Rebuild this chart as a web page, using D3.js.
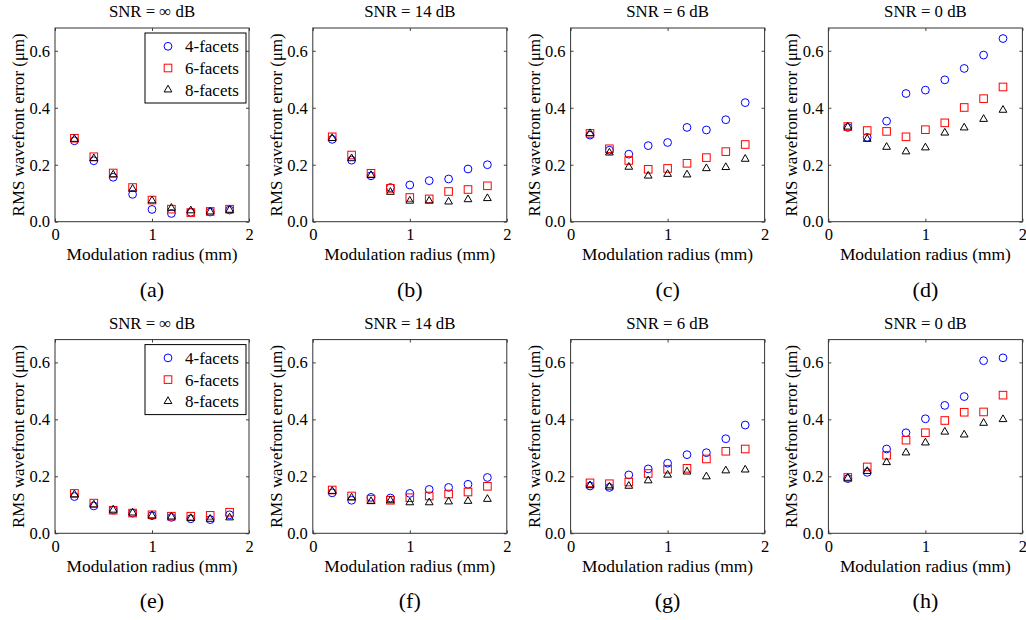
<!DOCTYPE html>
<html><head><meta charset="utf-8">
<script src="https://cdn.jsdelivr.net/npm/d3@7"></script>
<style>
body{margin:0;background:#fff}
text{font-family:"Liberation Serif","Times New Roman",serif;fill:#000}
</style></head>
<body><svg id="c" width="1026" height="620"></svg>
<script>
// Modulation radius (mm)
const radius = [0.2, 0.4, 0.6, 0.8, 1.0, 1.2, 1.4, 1.6, 1.8];
const seriesNames = ["4-facets", "6-facets", "8-facets"];
const titles = ["SNR = \u221E dB", "SNR = 14 dB", "SNR = 6 dB", "SNR = 0 dB",
                "SNR = \u221E dB", "SNR = 14 dB", "SNR = 6 dB", "SNR = 0 dB"];
const panelLabels = ["(a)", "(b)", "(c)", "(d)", "(e)", "(f)", "(g)", "(h)"];
const xTicks = [0, 1, 2];
const yTicks = [0, 0.2, 0.4, 0.6];

// RMS wavefront error (um), per panel and facet count
const a4 = [0.284, 0.214, 0.156, 0.096, 0.043, 0.029, 0.033, 0.034, 0.041];
const a6 = [0.293, 0.228, 0.171, 0.120, 0.076, 0.044, 0.032, 0.036, 0.044];
const a8 = [0.290, 0.222, 0.165, 0.115, 0.074, 0.048, 0.039, 0.035, 0.041];

const b4 = [0.289, 0.216, 0.161, 0.120, 0.129, 0.144, 0.150, 0.185, 0.200];
const b6 = [0.298, 0.234, 0.170, 0.117, 0.085, 0.080, 0.106, 0.113, 0.126];
const b8 = [0.293, 0.222, 0.163, 0.104, 0.073, 0.073, 0.070, 0.078, 0.082];

const c4 = [0.304, 0.251, 0.237, 0.267, 0.278, 0.331, 0.322, 0.358, 0.418];
const c6 = [0.310, 0.256, 0.215, 0.184, 0.187, 0.205, 0.225, 0.246, 0.271];
const c8 = [0.310, 0.242, 0.192, 0.161, 0.167, 0.165, 0.187, 0.191, 0.220];

const d4 = [0.331, 0.296, 0.353, 0.450, 0.462, 0.498, 0.538, 0.585, 0.643];
const d6 = [0.334, 0.320, 0.317, 0.298, 0.323, 0.347, 0.401, 0.432, 0.473];
const d8 = [0.333, 0.290, 0.262, 0.246, 0.260, 0.312, 0.330, 0.360, 0.392];

const e4 = [0.129, 0.096, 0.082, 0.071, 0.062, 0.056, 0.051, 0.048, 0.065];
const e6 = [0.140, 0.106, 0.081, 0.071, 0.065, 0.060, 0.060, 0.063, 0.074];
const e8 = [0.136, 0.100, 0.082, 0.072, 0.062, 0.058, 0.053, 0.050, 0.055];

const f4 = [0.142, 0.116, 0.126, 0.124, 0.140, 0.154, 0.161, 0.172, 0.196];
const f6 = [0.152, 0.131, 0.119, 0.116, 0.125, 0.131, 0.138, 0.145, 0.165];
const f8 = [0.148, 0.125, 0.112, 0.115, 0.108, 0.108, 0.111, 0.113, 0.120];

const g4 = [0.166, 0.161, 0.205, 0.226, 0.246, 0.276, 0.283, 0.332, 0.380];
const g6 = [0.177, 0.174, 0.180, 0.210, 0.225, 0.228, 0.261, 0.288, 0.296];
const g8 = [0.168, 0.163, 0.166, 0.185, 0.205, 0.216, 0.199, 0.220, 0.223];

const h4 = [0.192, 0.214, 0.296, 0.353, 0.402, 0.449, 0.480, 0.606, 0.616];
const h6 = [0.196, 0.233, 0.274, 0.327, 0.353, 0.396, 0.425, 0.426, 0.485];
const h8 = [0.194, 0.218, 0.249, 0.283, 0.318, 0.356, 0.346, 0.387, 0.400];

const panelData = [[a4,a6,a8],[b4,b6,b8],[c4,c6,c8],[d4,d6,d8],
                   [e4,e6,e8],[f4,f6,f8],[g4,g6,g8],[h4,h6,h8]];
const legendPanels = [0, 4];

const svg = d3.select("#c");
const W = 194, H = 193.7;
const colors = ["#0000ff", "#ff0000", "#000000"];
const FONT = '"Liberation Serif","Times New Roman",serif';

function drawMarker(g, k, x, y) {
  if (k === 0) {
    g.append("circle").attr("cx", x).attr("cy", y).attr("r", 3.9)
      .attr("fill", "none").attr("stroke", colors[0]).attr("stroke-width", 1);
  } else if (k === 1) {
    const s = 7.6;
    g.append("rect").attr("x", x - s/2).attr("y", y - s/2).attr("width", s).attr("height", s)
      .attr("fill", "none").attr("stroke", colors[1]).attr("stroke-width", 1);
  } else {
    g.append("path").attr("transform", `translate(${x},${y})`)
      .attr("d", d3.symbol(d3.symbolTriangle, 26)())
      .attr("fill", "none").attr("stroke", colors[2]).attr("stroke-width", 1);
  }
}

panelData.forEach((series, i) => {
  const col = i % 4, row = Math.floor(i / 4);
  const left = 55 + col * 257.8, top = 28 + row * 311.6;
  const x = d3.scaleLinear().domain([0, 2]).range([left, left + W]);
  const y = d3.scaleLinear().domain([0, 0.68]).range([top + H, top]);
  const g = svg.append("g");

  const styleAxis = sel => {
    sel.select(".domain").remove();
    sel.selectAll(".tick line").attr("stroke", "#444");
    sel.selectAll(".tick text").attr("font-family", FONT).style("font-family", FONT)
      .style("font-size", "16.5px").attr("fill", "#000");
  };
  g.append("g").attr("transform", `translate(0,${top + H})`)
    .call(d3.axisBottom(x).tickValues(xTicks).tickSize(-3).tickPadding(7).tickFormat(d3.format("d")))
    .call(styleAxis);
  g.append("g").attr("transform", `translate(0,${top})`)
    .call(d3.axisTop(x).tickValues(xTicks).tickSize(-3).tickFormat(""))
    .call(styleAxis);
  g.append("g").attr("transform", `translate(${left},0)`)
    .call(d3.axisLeft(y).tickValues(yTicks).tickSize(-3).tickPadding(5).tickFormat(d3.format(".1f")))
    .call(styleAxis);
  g.append("g").attr("transform", `translate(${left + W},0)`)
    .call(d3.axisRight(y).tickValues(yTicks).tickSize(-3).tickFormat(""))
    .call(styleAxis);

  g.append("rect").attr("x", left).attr("y", top).attr("width", W).attr("height", H)
    .attr("fill", "none").attr("stroke", "#333").attr("stroke-width", 1);

  series.forEach((vals, k) => {
    vals.forEach((v, j) => drawMarker(g, k, x(radius[j]), y(v)));
  });

  g.append("text").attr("x", left + W/2).attr("y", top - 11).attr("text-anchor", "middle")
    .style("font-size", "16.8px").text(titles[i]);
  g.append("text").attr("x", left + W/2).attr("y", top + H + 38.5).attr("text-anchor", "middle")
    .style("font-size", "17.4px").text("Modulation radius (mm)");
  g.append("text").attr("x", left + W/2).attr("y", top + H + 75).attr("text-anchor", "middle")
    .style("font-size", "22px").text(panelLabels[i]);
  g.append("text").attr("transform", `translate(${left - 31},${top + H/2}) rotate(-90)`)
    .attr("text-anchor", "middle").style("font-size", "16.9px").text("RMS wavefront error (\u03BCm)");

  if (legendPanels.includes(i)) {
    const lg = g.append("g");
    lg.append("rect").attr("x", left + 90).attr("y", top + 5).attr("width", 101).attr("height", 70)
      .attr("fill", "#fff").attr("stroke", "#000").attr("stroke-width", 1);
    seriesNames.forEach((name, k) => {
      const yy = top + 18.3 + k * 21.7;
      drawMarker(lg, k, left + 113, yy);
      lg.append("text").attr("x", left + 130).attr("y", yy).attr("dy", "0.35em")
        .style("font-size", "17px").text(name);
    });
  }
});
</script>
</body></html>
